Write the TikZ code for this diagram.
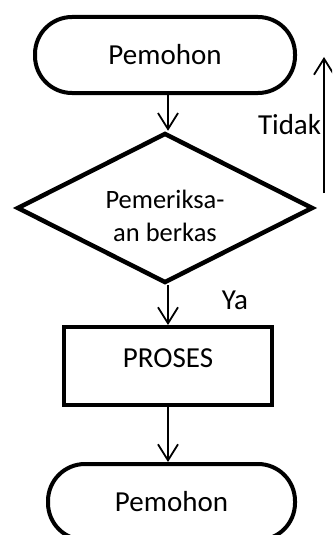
\documentclass[tikz,border=0pt]{standalone}
\usepackage{fontspec}
\setmainfont{Carlito}
\usetikzlibrary{shapes.geometric,arrows.meta}

\begin{document}
\begin{tikzpicture}[x = 1pt, y = -1pt, font = \fontsize{29}{33}\selectfont,
        terminal/.style = {draw, line width = 4pt, rounded corners = 37pt, minimum height = 76pt, inner sep = 0pt},
        decision/.style = {draw, diamond, line width = 4.5pt, inner sep = 0pt, minimum width = 296pt, minimum height = 150pt},
        process/.style = {draw, rectangle, line width = 4pt, minimum width = 208pt, minimum height = 78pt, inner sep = 0pt},
        flow/.style = {line width = 1.8pt, -{Straight Barb[length = 16pt, width = 20pt, line width = 1.8pt]}}]
        \useasboundingbox (0,0) rectangle (332,535);
        \clip (0,0) rectangle (332,535);

        \node [terminal, minimum width = 260pt] (mulai) at (165,55) {Pemohon};
        \node [decision] (cek) at (165,208) {};
        \node [align = center, font = \fontsize{26.5}{33}\selectfont] (cekteks) at (165,216) {Pemeriksa-\\an berkas};
        \node [process] (proses) at (168,366) {};
        \node (prosesteks) at (168,358) {PROSES};
        \node [terminal, minimum width = 247pt] (selesai) at (171.5,502) {Pemohon};

        \coordinate (tidakA) at (324,193);
        \coordinate (tidakB) at (324,57);

        \draw [flow] ([xshift = 3pt]mulai.south) -- ([xshift = 3pt]mulai.south |- cek.north);
        \draw [flow] (proses.north |- cek.south) -- (proses.north);
        \draw [flow] (proses.south) -- (proses.south |- selesai.north);
        \draw [flow] (tidakA) -- node [left, inner sep = 2pt] (tidak) {Tidak} (tidakB);

        \node (ya) at (235,300) {Ya};
    \end{tikzpicture}
\end{document}
